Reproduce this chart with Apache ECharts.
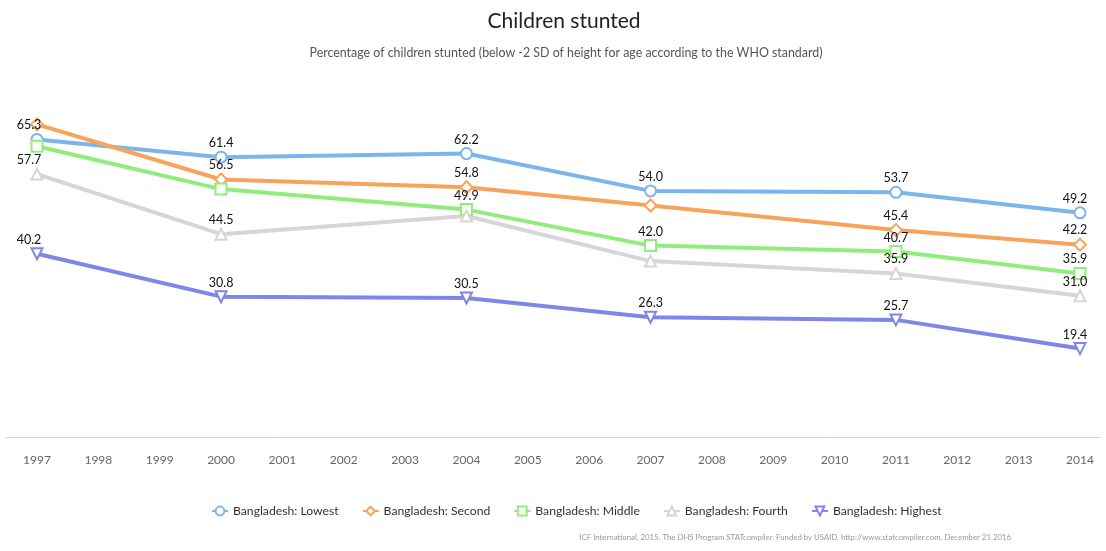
<!DOCTYPE html>
<html>
<head>
<meta charset="utf-8">
<script src="https://cdn.jsdelivr.net/npm/echarts@6/dist/echarts.min.js"></script>
<style>
  html, body { margin: 0; padding: 0; background: #fff; }
  #chart { width: 1106px; height: 551px; }
</style>
</head>
<body>
<div id="chart"></div>
<script>
// Axis categories: every year from 1997 to 2014
const years = ['1997','1998','1999','2000','2001','2002','2003','2004','2005','2006','2007','2008','2009','2010','2011','2012','2013','2014'];
// Survey years with data
const surveyYears = ['1997','2000','2004','2007','2011','2014'];

// Percentage of children stunted, by wealth quintile
const lowest  = [65.3, 61.4, 62.2, 54.0, 53.7, 49.2];
const second  = [68.6, 56.5, 54.8, 50.8, 45.4, 42.2];
const middle  = [63.8, 54.4, 49.9, 42.0, 40.7, 35.9];
const fourth  = [57.7, 44.5, 48.5, 38.6, 35.9, 31.0];
const highest = [40.2, 30.8, 30.5, 26.3, 25.7, 19.4];

// Survey years whose value label is crowded out by a neighbouring label
const hideLowest  = [];
const hideSecond  = ['1997', '2007'];
const hideMiddle  = ['1997', '2000'];
const hideFourth  = ['2004', '2007'];
const hideHighest = [];

const FONT = 'Lato, "Open Sans", sans-serif';

function makeSeries(name, values, hidden, color, symbol, size) {
  const first = surveyYears[0];
  const last = surveyYears[surveyYears.length - 1];
  return {
    name: name,
    type: 'line',
    xAxisIndex: 0,
    yAxisIndex: 0,
    connectNulls: true,
    symbol: symbol,
    symbolSize: size,
    showAllSymbol: true,
    lineStyle: { color: color, width: 4 },
    itemStyle: { color: '#ffffff', borderColor: color, borderWidth: 2 },
    emphasis: { disabled: true },
    label: {
      show: true,
      position: 'top',
      distance: 1,
      color: '#111',
      fontSize: 12.5,
      fontFamily: FONT,
      formatter: p => p.value[1].toFixed(1)
    },
    data: surveyYears.map((y, i) => {
      const item = { value: [y, values[i]] };
      if (hidden.indexOf(y) >= 0) {
        item.label = { show: false };
      } else if (y === first) {
        // keep edge labels inside the plot
        item.label = { offset: [-8, 0] };
      } else if (y === last) {
        item.label = { offset: [-5, 0] };
      }
      return item;
    })
  };
}

const chart = echarts.init(document.getElementById('chart'), null, { renderer: 'canvas' });

chart.setOption({
  backgroundColor: '#ffffff',
  animation: false,
  title: [
    {
      text: 'Children stunted',
      left: 559, top: 6, textAlign: 'center',
      textStyle: { fontFamily: FONT, fontSize: 21, fontWeight: 'normal', color: '#222' }
    },
    {
      text: 'Percentage of children stunted (below -2 SD of height for age according to the WHO standard)',
      left: 561, top: 42, textAlign: 'center',
      textStyle: { fontFamily: FONT, fontSize: 12.4, fontWeight: 'normal', color: '#555' }
    },
    {
      text: 'ICF International, 2015. The DHS Program STATcompiler. Funded by USAID. http://www.statcompiler.com. December 21 2016',
      right: 90, bottom: 5,
      textStyle: { fontFamily: FONT, fontSize: 7.8, fontWeight: 'normal', color: '#999' }
    }
  ],
  legend: {
    top: 500,
    left: 206,
    itemGap: 23,
    itemWidth: 16,
    itemHeight: 11,
    textStyle: { fontFamily: FONT, fontSize: 12.2, color: '#333' },
    data: ['Bangladesh: Lowest', 'Bangladesh: Second', 'Bangladesh: Middle', 'Bangladesh: Fourth', 'Bangladesh: Highest']
  },
  grid: [
    { left: 37, right: 26, top: 118, bottom: 114 },
    { left: 6, right: 6, top: 118, bottom: 114 }
  ],
  xAxis: [
    {
      type: 'category',
      gridIndex: 0,
      data: years,
      boundaryGap: false,
      axisLine: { show: false },
      axisTick: { show: false },
      axisLabel: { color: '#666', fontSize: 12, fontFamily: FONT, margin: 17, interval: 0 },
      splitLine: { show: false }
    },
    {
      // full-width baseline under the plot
      type: 'value',
      gridIndex: 1,
      min: 0, max: 1,
      axisLine: { show: true, lineStyle: { color: '#ccd6eb', width: 1 } },
      axisTick: { show: false },
      axisLabel: { show: false },
      splitLine: { show: false }
    }
  ],
  yAxis: [
    { type: 'value', gridIndex: 0, min: 0, max: 70, show: false, splitLine: { show: false } },
    { type: 'value', gridIndex: 1, min: 0, max: 1, show: false, splitLine: { show: false } }
  ],
  series: [
    makeSeries('Bangladesh: Lowest',  lowest,  hideLowest,  '#7cb5ec', 'circle',       11),
    makeSeries('Bangladesh: Second',  second,  hideSecond,  '#f7a35c', 'diamond',      12),
    makeSeries('Bangladesh: Middle',  middle,  hideMiddle,  '#90ed7d', 'rect',         11),
    makeSeries('Bangladesh: Fourth',  fourth,  hideFourth,  '#d6d6d6', 'triangle',     11),
    makeSeries('Bangladesh: Highest', highest, hideHighest, '#8085e9', 'path://M0,0 L10,0 L5,10 Z', 11)
  ]
});
</script>
</body>
</html>
